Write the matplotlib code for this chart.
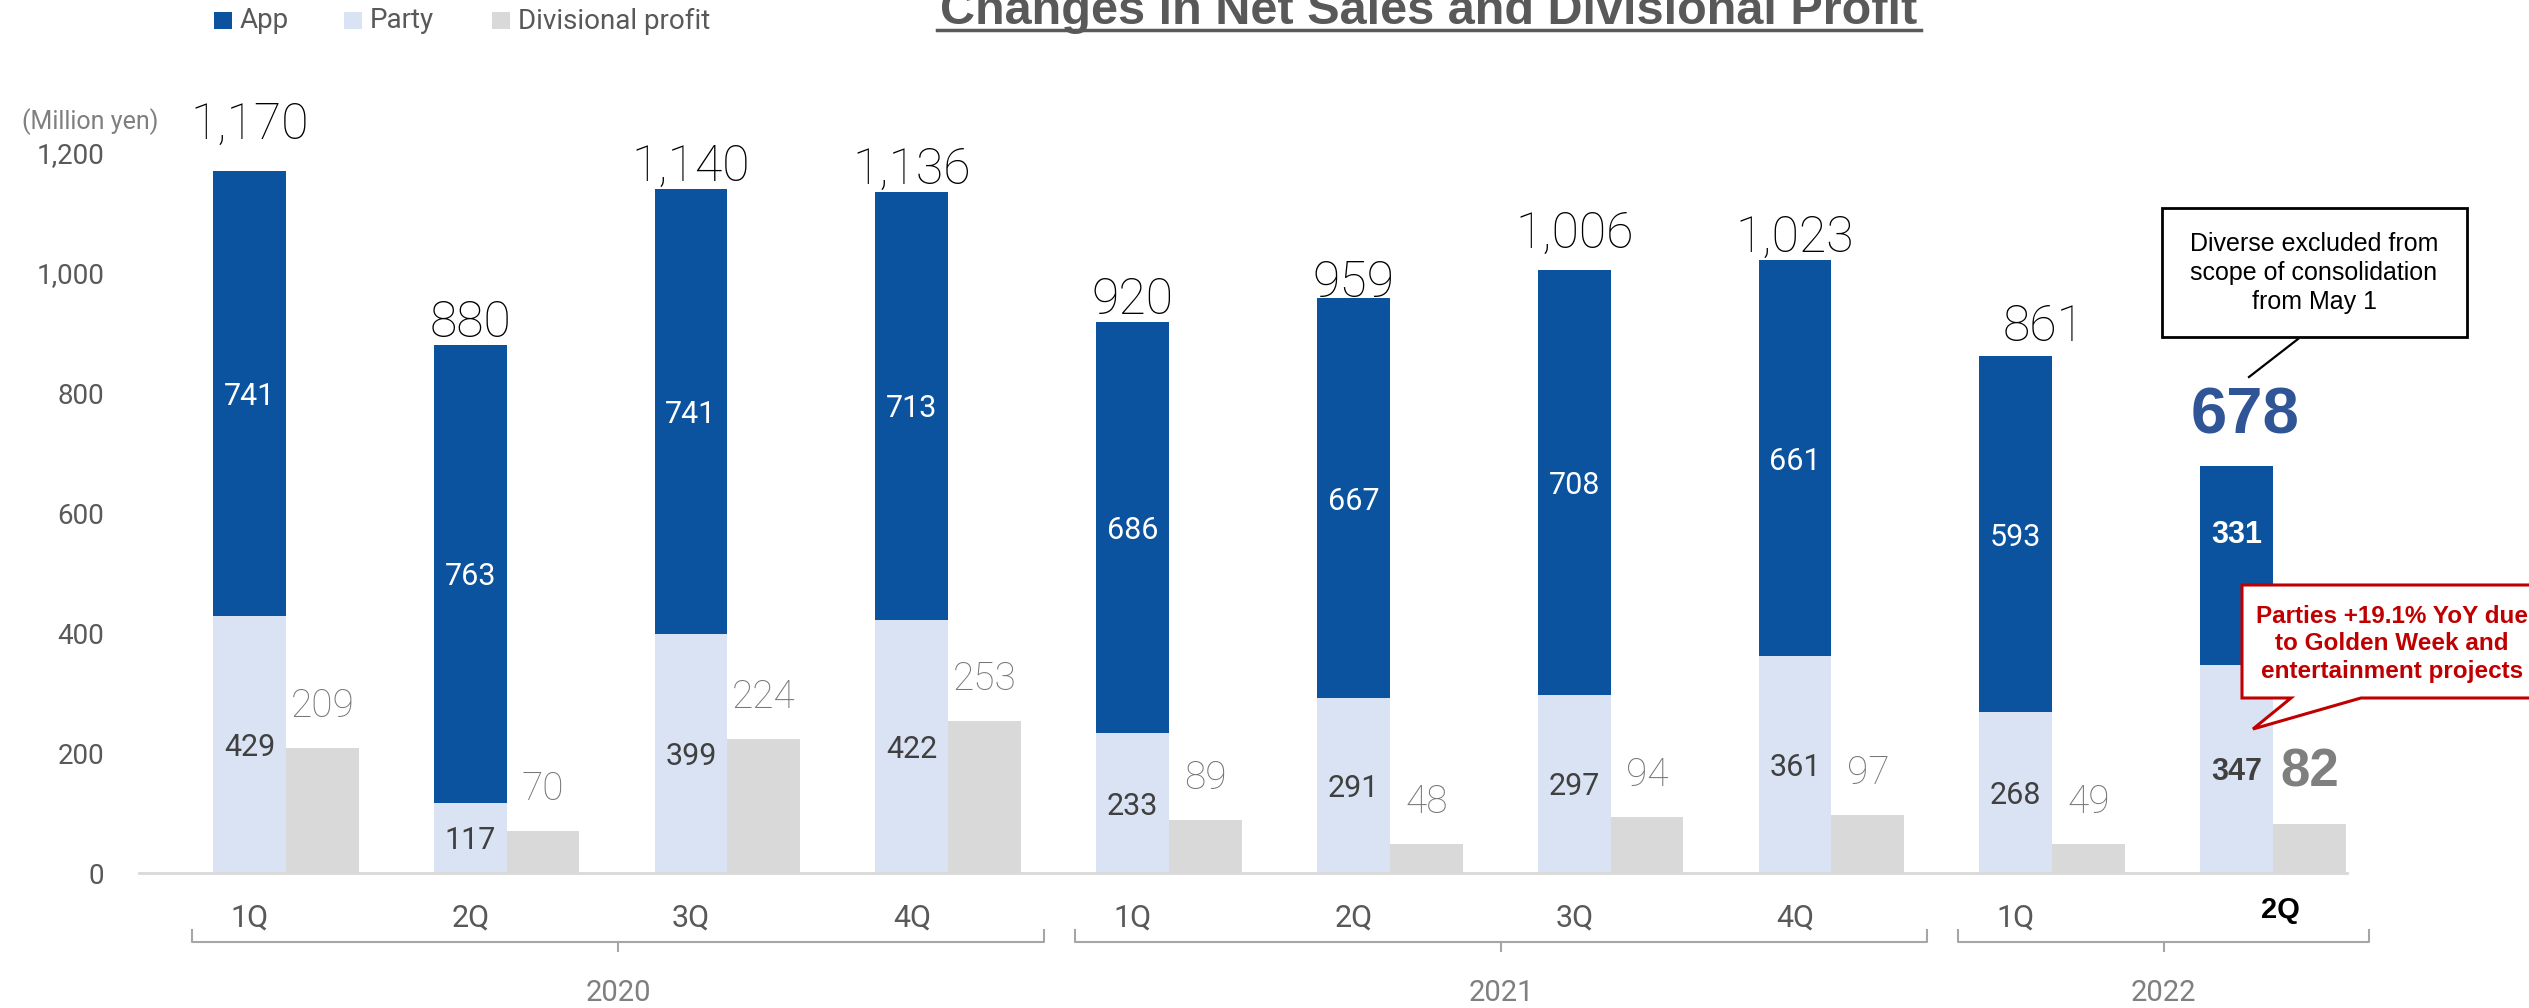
import matplotlib
matplotlib.use('Agg')
import matplotlib.pyplot as plt
from matplotlib.patches import Rectangle, Polygon
from matplotlib.lines import Line2D

# data
quarters = ['1Q', '2Q', '3Q', '4Q', '1Q', '2Q', '3Q', '4Q', '1Q', '2Q']
years = ['2020', '2021', '2022']
year_span = [(0, 3), (4, 7), (8, 9)]
app = [741, 763, 741, 713, 686, 667, 708, 661, 593, 331]
party = [429, 117, 399, 422, 233, 291, 297, 361, 268, 347]
profit = [209, 70, 224, 253, 89, 48, 94, 97, 49, 82]
totals = [1170, 880, 1140, 1136, 920, 959, 1006, 1023, 861, 678]
yticks = [0, 200, 400, 600, 800, 1000, 1200]

W, H = 2529, 1008
C_APP = '#0B539F'
C_PARTY = '#DAE3F3'
C_PROFIT = '#D9D9D9'
C_TXT = '#595959'
C_LIGHT = '#7F7F7F'
THIN = dict(family='Roboto', weight='normal')
LIGHT = dict(family='Roboto', weight='light')
BOLD = dict(family='Liberation Sans', weight='bold')


def fx(px):
    return px / W


def fy(py):
    return 1 - py / H


fig = plt.figure(figsize=(W / 100, H / 100), dpi=100)
ax = fig.add_axes([fx(139), fy(873), 2208 / W, 720 / H])

x = list(range(len(quarters)))
bw = 0.33
ax.bar(x, party, bw, color=C_PARTY, zorder=2)
ax.bar(x, app, bw, bottom=party, color=C_APP, zorder=2)
ax.bar([i + bw for i in x], profit, bw, color=C_PROFIT, zorder=2)

ax.set_xlim(-0.5, 9.5)
ax.set_ylim(0, 1200)
for s in ['top', 'right', 'left']:
    ax.spines[s].set_visible(False)
ax.spines['bottom'].set_color('#D9D9D9')
ax.spines['bottom'].set_linewidth(2)
ax.spines['bottom'].set_zorder(3)
ax.set_xticks([])
ax.set_yticks(yticks)
ax.set_yticklabels([f'{v:,}' for v in yticks], color=C_TXT, fontsize=20, **THIN)
ax.tick_params(axis='y', length=0, pad=25)

last = len(x) - 1
# pixel nudges for the total labels (dx, gap above bar)
total_nudge = {0: (0, 32), 5: (0, 1), 6: (0, 22), 8: (28, 15)}

for i in x:
    top = party[i] + app[i]
    if i == last:
        ax.annotate(f'{totals[i]:,}', (i, top), xytext=(6, 33 * 0.72), textcoords='offset points',
                    ha='center', va='baseline', fontsize=47, color='#2F5597', **BOLD)
        ax.text(i, party[i] + app[i] * 0.67, str(app[i]), ha='center', va='center_baseline',
                fontsize=22, color='white', **BOLD)
        ax.text(i, party[i] / 2, str(party[i]), ha='center', va='center_baseline',
                fontsize=22, color='#404040', **BOLD)
        ax.annotate(str(profit[i]), (i + bw, profit[i]), xytext=(0, 37 * 0.72), textcoords='offset points',
                    ha='center', va='baseline', fontsize=38, color=C_LIGHT, **BOLD)
        continue
    dx, gap = total_nudge.get(i, (0, 8))
    ax.annotate(f'{totals[i]:,}', (i, top), xytext=(dx * 0.72, gap * 0.72), textcoords='offset points',
                ha='center', va='baseline', fontsize=36, color='black', **LIGHT)
    ax.text(i, party[i] + app[i] / 2, str(app[i]), ha='center', va='center_baseline',
            fontsize=22, color='white', **THIN)
    ax.text(i, party[i] / 2, str(party[i]), ha='center', va='center_baseline',
            fontsize=22, color='#404040', **THIN)
    ax.annotate(str(profit[i]), (i + bw, profit[i]), xytext=(0, 31 * 0.72), textcoords='offset points',
                ha='center', va='baseline', fontsize=28, color='#767676', **LIGHT)

# quarter labels and year brackets
xt = ax.get_xaxis_transform()


def ay(py):
    return (873 - py) / 720


for i, q in enumerate(quarters):
    if i == last:
        ax.text(i + 0.2, ay(910), q, transform=xt, ha='center', va='center',
                fontsize=21, color='black', **BOLD)
    else:
        ax.text(i, ay(918), q, transform=xt, ha='center', va='center',
                fontsize=22, color=C_TXT, **THIN)

for yr, (a, b) in zip(years, year_span):
    x0, x1 = a - 0.26, b + 0.6
    xm = (x0 + x1) / 2
    ax.plot([x0, x0, x1, x1], [ay(930), ay(942), ay(942), ay(930)], transform=xt,
            color='#A6A6A6', lw=1.5, clip_on=False)
    ax.plot([xm, xm], [ay(942), ay(951)], transform=xt, color='#A6A6A6', lw=1.5, clip_on=False)
    ax.text(xm, ay(993), yr, transform=xt, ha='center', va='center',
            fontsize=21, color=C_LIGHT, **THIN)

# unit label
fig.text(fx(90), fy(122), '(Million yen)', ha='center', va='center', fontsize=18,
         color=C_LIGHT, family='Roboto')

# legend
for sx, label, c in [(214, 'App', C_APP), (344, 'Party', C_PARTY), (492, 'Divisional profit', C_PROFIT)]:
    fig.add_artist(Rectangle((fx(sx), fy(29)), 18 / W, 17 / H, transform=fig.transFigure,
                             color=c, lw=0))
    fig.text(fx(sx + 26), fy(21), label, ha='left', va='center', fontsize=20, color=C_TXT, **THIN)

# title (top cut off as in the slide)
fig.text(fx(1429), fy(24), 'Changes in Net Sales and Divisional Profit', ha='center', va='baseline',
         fontsize=35, color=C_TXT, **BOLD)
fig.add_artist(Line2D([fx(937), fx(1921)], [fy(29.5), fy(29.5)], transform=fig.transFigure,
                      color=C_TXT, lw=2.5))

# callout: deconsolidation
fig.add_artist(Rectangle((fx(2162), fy(337)), 305 / W, 129 / H, transform=fig.transFigure,
                         facecolor='white', edgecolor='black', lw=2))
fig.add_artist(Line2D([fx(2298), fx(2249)], [fy(339), fy(377)], transform=fig.transFigure,
                      color='black', lw=1.6))
fig.text(fx(2314), fy(273), 'Diverse excluded from\nscope of consolidation\nfrom May 1',
         ha='center', va='center', fontsize=18, color='black', family='Liberation Sans',
         linespacing=1.25)

# callout: parties
bubble = [(2242, 585), (2570, 585), (2570, 698), (2361, 698), (2253, 729), (2291, 698), (2242, 698)]
fig.add_artist(Polygon([(fx(a), fy(b)) for a, b in bubble], closed=True, transform=fig.transFigure,
                       facecolor='white', edgecolor='#C00000', lw=2.2, zorder=5))
fig.text(fx(2392), fy(644), 'Parties +19.1% YoY due\nto Golden Week and\nentertainment projects',
         ha='center', va='center', fontsize=17.5, color='#C00000', linespacing=1.25, zorder=6, **BOLD)

fig.savefig('out.png', dpi=100)
